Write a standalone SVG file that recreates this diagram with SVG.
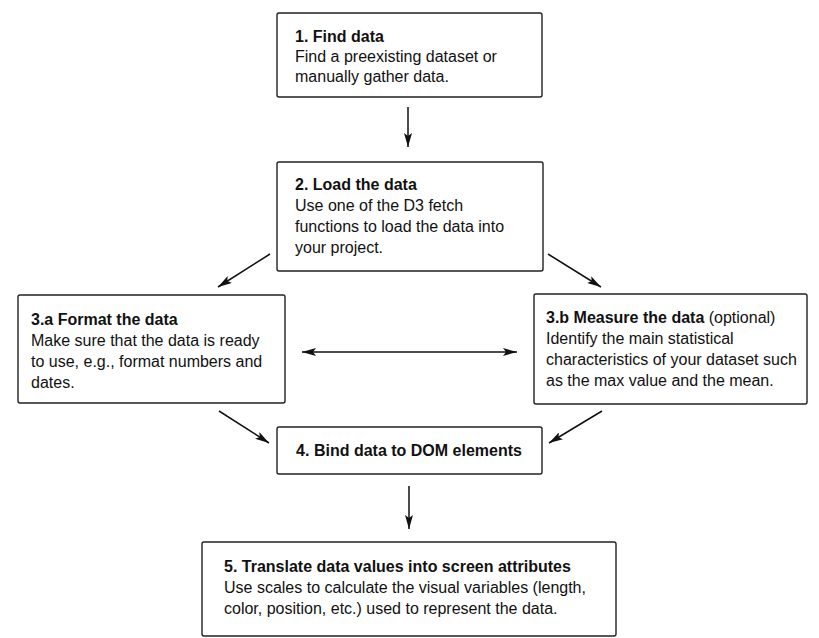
<svg xmlns="http://www.w3.org/2000/svg" width="819" height="638" viewBox="0 0 819 638">
<style>
.box{fill:#fff;stroke:#222;stroke-width:1.4}
text{font-family:"Liberation Sans",Arial,sans-serif;font-size:16px;fill:#111}
.b{font-weight:bold}
.c{stroke:#111;stroke-width:1.5;fill:none}
</style>
<defs>
<marker id="ah" viewBox="0 0 14 8" refX="14" refY="4" markerWidth="14" markerHeight="8" markerUnits="userSpaceOnUse" orient="auto-start-reverse">
<path d="M0,0 L14,4 L0,8 L3,4 Z" fill="#111"/>
</marker>
</defs>
<rect width="819" height="638" fill="#fff"/>
<g id="connectors">
<line class="c" x1="408" y1="107" x2="408" y2="147" marker-end="url(#ah)"/>
<line class="c" x1="270" y1="254" x2="218" y2="287" marker-end="url(#ah)"/>
<line class="c" x1="548" y1="254" x2="601" y2="287" marker-end="url(#ah)"/>
<line class="c" x1="302" y1="352" x2="517" y2="352" marker-start="url(#ah)" marker-end="url(#ah)"/>
<line class="c" x1="219" y1="411" x2="269" y2="443" marker-end="url(#ah)"/>
<line class="c" x1="602" y1="411" x2="549" y2="443" marker-end="url(#ah)"/>
<line class="c" x1="409" y1="486" x2="409" y2="529" marker-end="url(#ah)"/>
</g>
<g id="n1">
<rect class="box" x="277" y="13" width="265" height="84" rx="2"/>
<text x="295" y="42" class="b">1. Find data</text>
<text x="295" y="62">Find a preexisting dataset or</text>
<text x="295" y="82">manually gather data.</text>
</g>
<g id="n2">
<rect class="box" x="277" y="162" width="266" height="109" rx="2"/>
<text x="295" y="190" class="b">2. Load the data</text>
<text x="295" y="211">Use one of the D3 fetch</text>
<text x="295" y="232">functions to load the data into</text>
<text x="295" y="253">your project.</text>
</g>
<g id="n3a">
<rect class="box" x="18" y="295" width="267" height="108" rx="2"/>
<text x="31" y="325" class="b">3.a Format the data</text>
<text x="31" y="346">Make sure that the data is ready</text>
<text x="31" y="367">to use, e.g., format numbers and</text>
<text x="31" y="388">dates.</text>
</g>
<g id="n3b">
<rect class="box" x="534" y="294" width="273" height="110" rx="2"/>
<text x="546" y="323"><tspan class="b">3.b Measure the data</tspan> (optional)</text>
<text x="546" y="344">Identify the main statistical</text>
<text x="546" y="365">characteristics of your dataset such</text>
<text x="546" y="386">as the max value and the mean.</text>
</g>
<g id="n4">
<rect class="box" x="277" y="427" width="265" height="47" rx="2"/>
<text x="409" y="456" class="b" text-anchor="middle">4. Bind data to DOM elements</text>
</g>
<g id="n5">
<rect class="box" x="202" y="542" width="414" height="94" rx="2"/>
<text x="224" y="572" class="b">5. Translate data values into screen attributes</text>
<text x="224" y="593">Use scales to calculate the visual variables (length,</text>
<text x="224" y="614">color, position, etc.) used to represent the data.</text>
</g>
</svg>
